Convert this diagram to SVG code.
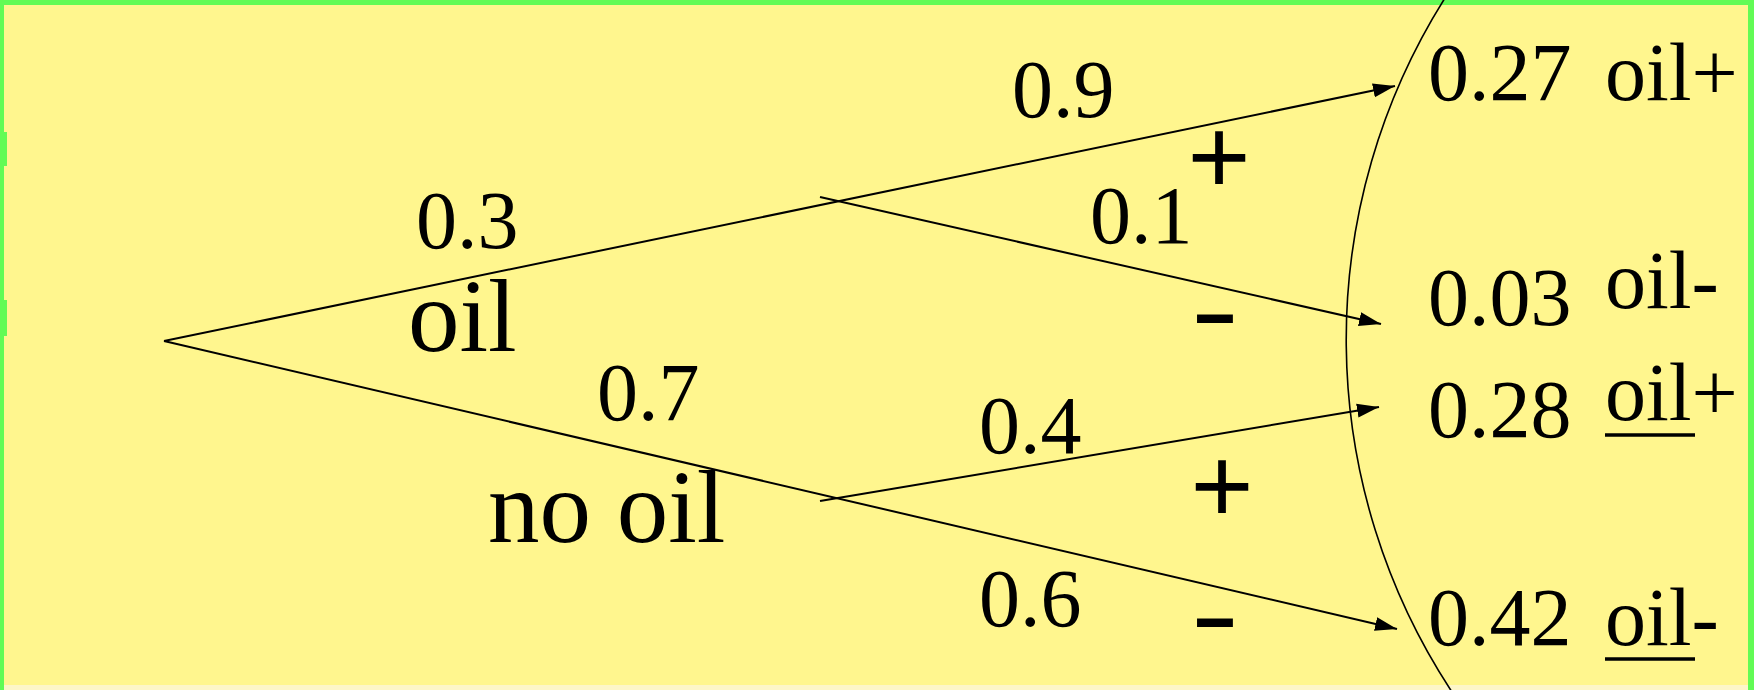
<svg xmlns="http://www.w3.org/2000/svg" width="1754" height="690" viewBox="0 0 1754 690">
  <style>
    .lbl { font-family: "Liberation Serif", "Times New Roman", serif; font-size: 82px; fill: #000; }
    .big { font-family: "Liberation Serif", "Times New Roman", serif; font-size: 103px; fill: #000; }
    .sign { font-family: "Liberation Sans", Arial, sans-serif; font-size: 108px; fill: #000; text-anchor: middle; }
    .edge { stroke: #000; stroke-width: 2; fill: none; }
    .ul { stroke: #000; stroke-width: 3.5; }
  </style>
  <defs>
    <marker id="arrow" markerUnits="userSpaceOnUse" markerWidth="24" markerHeight="16" refX="22" refY="8" orient="auto">
      <path d="M0,1 L22,8 L0,15 z" fill="#000"/>
    </marker>
  </defs>

  <!-- background and frame -->
  <rect x="0" y="0" width="1754" height="690" fill="#62fb55"/>
  <rect x="4" y="5" width="1744" height="682" fill="#fff68e"/>
  <rect x="4" y="685" width="1744" height="5" fill="#fdf6c8"/>
  <rect x="0" y="132" width="7" height="34" fill="#62fb55"/>
  <rect x="0" y="300" width="7" height="36" fill="#62fb55"/>

  <!-- outcome boundary arc -->
  <path id="arc" d="M1445,-2 A640,640 0 0 0 1452,692" fill="none" stroke="#000" stroke-width="1.6"/>

  <g id="connectors">
    <line class="edge" x1="164" y1="341" x2="1395" y2="86" marker-end="url(#arrow)"/>
    <line class="edge" x1="820" y1="197" x2="1381" y2="324" marker-end="url(#arrow)"/>
    <line class="edge" x1="164" y1="341" x2="1397" y2="629" marker-end="url(#arrow)"/>
    <line class="edge" x1="820" y1="501" x2="1379" y2="407" marker-end="url(#arrow)"/>
  </g>

  <g id="branch-oil">
    <text class="lbl" x="416" y="248">0.3</text>
    <text class="big" x="408" y="351">oil</text>
  </g>
  <g id="branch-nooil">
    <text class="lbl" x="597" y="420">0.7</text>
    <text class="big" x="488" y="542">no oil</text>
  </g>
  <g id="branch-oil-plus">
    <text class="lbl" x="1012" y="117">0.9</text>
    <text class="sign" x="1219" y="193">+</text>
  </g>
  <g id="branch-oil-minus">
    <text class="lbl" x="1090" y="243">0.1</text>
    <text class="sign" transform="translate(1215,347) scale(1.36,1)">-</text>
  </g>
  <g id="branch-nooil-plus">
    <text class="lbl" x="979" y="453">0.4</text>
    <text class="sign" x="1222" y="522">+</text>
  </g>
  <g id="branch-nooil-minus">
    <text class="lbl" x="979" y="626">0.6</text>
    <text class="sign" transform="translate(1215,651) scale(1.36,1)">-</text>
  </g>

  <g id="outcome-1">
    <text class="lbl" x="1428" y="100">0.27</text>
    <text class="lbl" x="1605" y="100">oil+</text>
  </g>
  <g id="outcome-2">
    <text class="lbl" x="1428" y="325">0.03</text>
    <text class="lbl" x="1605" y="308">oil-</text>
  </g>
  <g id="outcome-3">
    <text class="lbl" x="1428" y="437">0.28</text>
    <text class="lbl" x="1605" y="420">oil+</text>
    <line class="ul" x1="1605" y1="435" x2="1695" y2="435"/>
  </g>
  <g id="outcome-4">
    <text class="lbl" x="1428" y="645">0.42</text>
    <text class="lbl" x="1605" y="645">oil-</text>
    <line class="ul" x1="1605" y1="659" x2="1695" y2="659"/>
  </g>
</svg>
